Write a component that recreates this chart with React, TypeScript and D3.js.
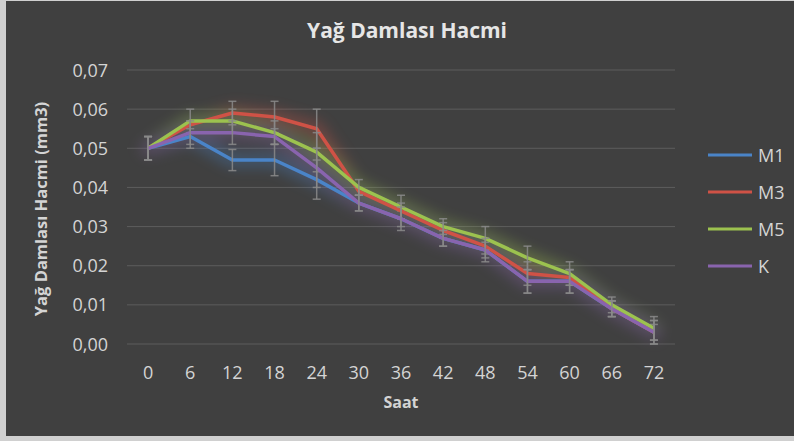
import React from 'react'
import * as d3 from 'd3'

// hours on the x axis
const hours = ['0', '6', '12', '18', '24', '30', '36', '42', '48', '54', '60', '66', '72']
const yTicks = [0, 0.01, 0.02, 0.03, 0.04, 0.05, 0.06, 0.07]

const seriesNames = ['M1', 'M3', 'M5', 'K']
const seriesColors = ['#4a84c8', '#cf5246', '#9cc24f', '#8964ae']

const m1 = [0.050, 0.053, 0.047, 0.047, 0.042, 0.036, 0.032, 0.027, 0.024, 0.016, 0.016, 0.009, 0.003]
const m3 = [0.050, 0.056, 0.059, 0.058, 0.055, 0.039, 0.034, 0.029, 0.025, 0.018, 0.017, 0.009, 0.003]
const m5 = [0.050, 0.057, 0.057, 0.054, 0.049, 0.040, 0.035, 0.030, 0.027, 0.022, 0.018, 0.010, 0.004]
const k = [0.050, 0.054, 0.054, 0.053, 0.045, 0.036, 0.032, 0.027, 0.024, 0.016, 0.016, 0.009, 0.003]

// error (+/-) for each series
const m1Err = [0.003, 0.003, 0.0027, 0.004, 0.005, 0.002, 0.002, 0.002, 0.002, 0.003, 0.003, 0.002, 0.003]
const m3Err = [0.003, 0.001, 0.003, 0.004, 0.005, 0.001, 0.002, 0.002, 0.002, 0.003, 0.002, 0.002, 0.002]
const m5Err = [0.003, 0.003, 0.003, 0.003, 0.005, 0.002, 0.003, 0.002, 0.003, 0.003, 0.003, 0.002, 0.003]
const kErr = [0.003, 0.003, 0.003, 0.002, 0.005, 0.002, 0.003, 0.002, 0.003, 0.003, 0.003, 0.002, 0.003]

const allSeries = [m1, m3, m5, k]
const allErr = [m1Err, m3Err, m5Err, kErr]

const font = '"Open Sans", "Noto Sans", sans-serif'
const txt = '#d4d4d4'

export default function App() {
  const W = 794
  const H = 441

  const x = d3.scaleBand().domain(hours).range([127, 675])
  const y = d3.scaleLinear().domain([0, 0.07]).range([344, 70])
  const cx = (i: number) => (x(hours[i]) as number) + x.bandwidth() / 2

  const line = d3.line<number>()
    .x((d, i) => cx(i))
    .y(d => y(d))

  const fmt = (v: number) => d3.format('.2f')(v).replace('.', ',')

  return (
    <div style={{ position: 'fixed', left: 0, top: 0 }}>
      <svg width={W} height={H} style={{ display: 'block' }}>
        <defs>
          <filter id="glow" x="-20%" y="-50%" width="140%" height="200%">
            <feGaussianBlur stdDeviation="7" />
          </filter>
        </defs>
        <rect x={0} y={0} width={W} height={H} fill="#d0d0d0" />
        <rect x={6} y={1} width={W - 6} height={435} fill="#404040" />

        <text x={407} y={38} textAnchor="middle" fill="#e6e6e6" fontFamily={font}
          fontWeight="bold" fontSize={21}>Yağ Damlası Hacmi</text>

        {/* gridlines */}
        {yTicks.map(t => (
          <line key={'g' + t} x1={127} x2={675} y1={y(t)} y2={y(t)} stroke="#5c5c5c" strokeWidth={1} />
        ))}
        {yTicks.map(t => (
          <text key={'t' + t} x={108} y={y(t) + 6.5} textAnchor="end" fill={txt}
            fontFamily={font} fontSize={18}>{fmt(t)}</text>
        ))}
        {hours.map((h, i) => (
          <text key={'h' + h} x={cx(i)} y={379} textAnchor="middle" fill={txt}
            fontFamily={font} fontSize={18}>{h}</text>
        ))}

        <text x={401} y={408} textAnchor="middle" fill={txt} fontFamily={font}
          fontWeight="bold" fontSize={16}>Saat</text>
        <text transform="translate(47,209) rotate(-90)" textAnchor="middle" fill={txt}
          fontFamily={font} fontWeight="bold" fontSize={16.5}>Yağ Damlası Hacmi (mm3)</text>

        {/* glow */}
        <g filter="url(#glow)" opacity={0.35}>
          {allSeries.map((s, si) => (
            <path key={'gl' + si} d={line(s) || ''} fill="none" stroke={seriesColors[si]}
              strokeWidth={14} strokeLinejoin="round" strokeLinecap="round" />
          ))}
        </g>

        {allSeries.map((s, si) => (
          <g key={'s' + si}>
            <path d={line(s) || ''} fill="none" stroke={seriesColors[si]} strokeWidth={3.5}
              strokeLinejoin="round" />
            {s.map((v, i) => {
              const e = allErr[si][i]
              const yt = y(v + e)
              const yb = y(Math.max(0, v - e))
              const xc = cx(i)
              return (
                <g key={'e' + i} stroke="#8a8a8a" strokeOpacity={0.85} strokeWidth={1.5}>
                  <line x1={xc} x2={xc} y1={yt} y2={yb} />
                  <line x1={xc - 4} x2={xc + 4} y1={yt} y2={yt} />
                  <line x1={xc - 4} x2={xc + 4} y1={yb} y2={yb} />
                </g>
              )
            })}
          </g>
        ))}

        {/* legend */}
        {seriesNames.map((n, i) => (
          <g key={'l' + n} transform={`translate(708,${155 + i * 37})`}>
            <line x1={0} x2={44} y1={0} y2={0} stroke={seriesColors[i]} strokeWidth={3} />
            <text x={50} y={6.5} fill={txt} fontFamily={font} fontSize={18}>{n}</text>
          </g>
        ))}
      </svg>
    </div>
  )
}
